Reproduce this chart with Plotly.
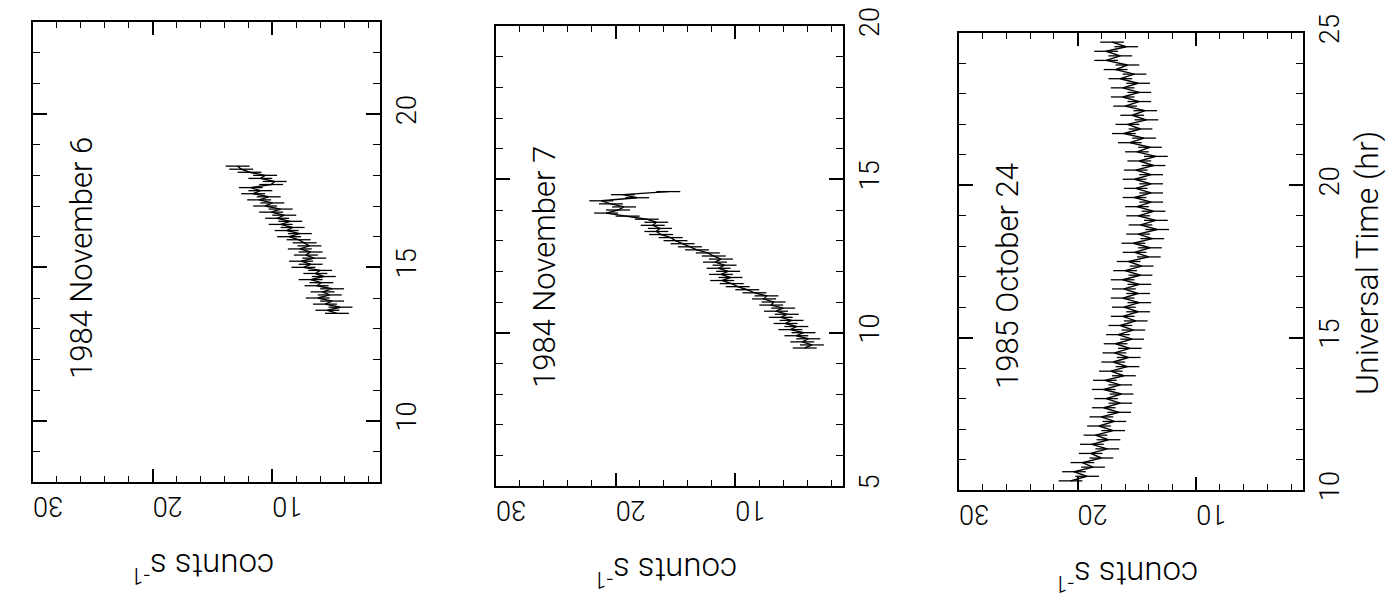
import plotly.graph_objects as go

# ---- light-curve data: Universal Time (hr) and count rate (counts s^-1) ----
nov6_time = [13.5, 13.6, 13.7, 13.8, 13.9, 14.0, 14.1, 14.2, 14.3, 14.4,
             14.5, 14.6, 14.7, 14.8, 14.9, 15.0, 15.1, 15.2, 15.3, 15.4,
             15.5, 15.6, 15.7, 15.8, 15.9, 16.0, 16.1, 16.2, 16.3, 16.4,
             16.5, 16.6, 16.7, 16.8, 16.9, 17.0, 17.1, 17.2, 17.3, 17.4,
             17.5, 17.6, 17.7, 17.8, 17.9, 18.0, 18.1, 18.2, 18.3]
nov6_counts = [4.6, 5.4, 4.3, 5.6, 5.0, 6.2, 5.2, 5.8, 5.0, 6.3,
               5.9, 6.8, 5.7, 6.4, 6.0, 7.4, 6.8, 7.6, 6.5, 7.2,
               6.8, 7.7, 6.9, 7.3, 7.8, 8.6, 7.7, 8.8, 8.3, 9.3,
               8.5, 9.6, 9.0, 10.1, 9.3, 10.6, 10.0, 11.1, 10.3, 11.6,
               11.0, 11.8, 10.1, 9.8, 11.0, 10.6, 11.9, 12.6, 12.9]

nov7_time = [9.5, 9.6, 9.7, 9.8, 9.9, 10.0, 10.1, 10.2, 10.3, 10.4,
             10.5, 10.6, 10.7, 10.8, 10.9, 11.0, 11.1, 11.2, 11.3, 11.4,
             11.5, 11.6, 11.7, 11.8, 11.9, 12.0, 12.1, 12.2, 12.3, 12.4,
             12.5, 12.6, 12.7, 12.8, 12.9, 13.0, 13.1, 13.2, 13.3, 13.4,
             13.5, 13.6, 13.7, 13.8, 13.9, 14.0, 14.1, 14.2, 14.3, 14.4,
             14.5, 14.6]
nov7_counts = [4.2, 3.6, 4.4, 3.9, 4.9, 4.3, 5.4, 4.9, 5.8, 5.3,
               6.2, 5.7, 6.6, 6.0, 7.0, 6.8, 7.6, 7.4, 8.4, 9.0,
               9.8, 10.3, 11.1, 10.4, 11.2, 10.6, 11.4, 10.9, 11.7, 11.2,
               11.8, 12.3, 13.2, 13.8, 14.4, 15.0, 15.4, 16.2, 16.6, 16.3,
               16.9, 16.6, 17.4, 19.0, 20.8, 19.8, 19.3, 20.4, 21.2, 18.2,
               19.4, 15.6]

oct24_time = [10.30, 10.45, 10.60, 10.75, 10.90, 11.05, 11.20, 11.35, 11.50, 11.65,
              11.80, 11.95, 12.10, 12.25, 12.40, 12.55, 12.70, 12.85, 13.00, 13.15,
              13.30, 13.45, 13.60, 13.75, 13.90, 14.05, 14.20, 14.35, 14.50, 14.65,
              14.80, 14.95, 15.10, 15.25, 15.40, 15.55, 15.70, 15.85, 16.00, 16.15,
              16.30, 16.45, 16.60, 16.75, 16.90, 17.05, 17.20, 17.35, 17.50, 17.65,
              17.80, 17.95, 18.10, 18.25, 18.40, 18.55, 18.70, 18.85, 19.00, 19.15,
              19.30, 19.45, 19.60, 19.75, 19.90, 20.05, 20.20, 20.35, 20.50, 20.65,
              20.80, 20.95, 21.10, 21.25, 21.40, 21.55, 21.70, 21.85, 22.00, 22.15,
              22.30, 22.45, 22.60, 22.75, 22.90, 23.05, 23.20, 23.35, 23.50, 23.65,
              23.80, 23.95, 24.10, 24.25, 24.40, 24.55, 24.70]
oct24_counts = [20.6, 19.2, 20.3, 18.7, 19.6, 18.0, 18.9, 17.5, 18.8, 17.4,
                18.5, 17.0, 18.2, 16.9, 18.0, 16.5, 17.8, 16.4, 17.6, 16.3,
                17.8, 16.4, 17.7, 16.1, 17.2, 15.8, 17.0, 15.7, 16.9, 15.6,
                16.8, 15.4, 16.6, 15.3, 16.4, 15.1, 16.2, 14.9, 16.1, 14.8,
                16.2, 14.9, 16.1, 14.8, 16.2, 14.7, 16.0, 14.6, 15.7, 14.0,
                15.2, 13.9, 15.3, 13.7, 14.9, 13.3, 14.7, 13.4, 14.9, 13.6,
                15.0, 13.8, 15.2, 13.8, 15.1, 13.8, 15.2, 13.8, 15.1, 13.6,
                14.8, 13.4, 15.0, 13.9, 15.6, 14.4, 16.1, 14.7, 15.8, 14.2,
                15.4, 14.3, 16.0, 14.8, 16.2, 14.8, 16.2, 14.9, 16.4, 15.2,
                16.8, 15.8, 17.6, 16.4, 17.6, 15.9, 17.1]

count_err = 1.0  # 1-sigma uncertainty on each rate bin

panel_titles = ["1984 November 6", "1984 November 7", "1985 October 24"]
time_ranges = [[8, 23], [5, 20], [10, 25]]
count_range = [30, 1]

series = [(nov6_time, nov6_counts), (nov7_time, nov7_counts), (oct24_time, oct24_counts)]

# ---- page geometry (pixels) ----
W, H = 1399, 607
boxes = [  # left, right, top, bottom
    (33, 380, 22, 482),
    (496, 843, 26, 486),
    (959, 1303, 33, 490),
]
title_centres = [258, 267, 276]  # vertical centre of each date label
FONT = "Roboto, Liberation Sans, Arial, sans-serif"
WEIGHT = 300


def fx(p):
    return p / W


def fy(p):
    return 1 - p / H


fig = go.Figure()
layout = dict(
    width=W, height=H, template="none",
    margin=dict(l=0, r=0, t=0, b=0),
    paper_bgcolor="white", plot_bgcolor="white",
    showlegend=False,
    font=dict(family=FONT, color="black", size=27, weight=WEIGHT),
)

annotations = []
for i, ((t, c), box, trange, title, tc) in enumerate(
        zip(series, boxes, time_ranges, panel_titles, title_centres)):
    n = "" if i == 0 else str(i + 1)
    fig.add_trace(go.Scatter(
        x=c, y=t, mode="lines",
        line=dict(color="black", width=1.4),
        error_x=dict(type="constant", value=count_err, color="black",
                     thickness=1.3, width=0),
        xaxis="x" + n, yaxis="y" + n, hoverinfo="skip",
    ))
    l, r, top, bot = box
    layout["xaxis" + n] = dict(
        domain=[fx(l), fx(r)], anchor="y" + n,
        range=count_range, tick0=0, dtick=10,
        ticks="inside", ticklen=13, tickwidth=1.5, tickcolor="black",
        mirror="allticks", showline=True, linewidth=2, linecolor="black",
        showgrid=False, zeroline=False, automargin=False,
        tickangle=180, ticklabelstandoff=8,
        tickfont=dict(size=27, family=FONT, weight=WEIGHT),
        minor=dict(dtick=2, ticks="inside", ticklen=6, tickwidth=1.2,
                   tickcolor="black", showgrid=False),
    )
    layout["yaxis" + n] = dict(
        domain=[fy(bot), fy(top)], anchor="x" + n, side="right",
        range=trange, tick0=0, dtick=5,
        ticks="inside", ticklen=14, tickwidth=1.5, tickcolor="black",
        mirror="allticks", showline=True, linewidth=2, linecolor="black",
        showgrid=False, zeroline=False, automargin=False,
        tickangle=-90, ticklabelstandoff=2,
        tickfont=dict(size=27, family=FONT, weight=WEIGHT),
        minor=dict(dtick=1, ticks="inside", ticklen=7, tickwidth=1.2,
                   tickcolor="black", showgrid=False),
    )
    # date label inside the panel
    annotations.append(dict(
        text=title, x=fx(l + 48), y=fy(tc),
        xref="paper", yref="paper", showarrow=False, textangle=-90,
        font=dict(size=31, family=FONT, color="black", weight=WEIGHT),
        xanchor="center", yanchor="middle",
    ))
    # count-rate axis title (upside down like the tick labels)
    annotations.append(dict(
        text="counts s<sup>-1</sup>", x=fx((l + r) / 2 - 4), y=fy(bot + 86),
        xref="paper", yref="paper", showarrow=False, textangle=180,
        font=dict(size=33, family=FONT, color="black", weight=WEIGHT),
        xanchor="center", yanchor="middle",
    ))

annotations.append(dict(
    text="Universal Time (hr)", x=fx(1367), y=fy(263),
    xref="paper", yref="paper", showarrow=False, textangle=-90,
    font=dict(size=32, family=FONT, color="black", weight=WEIGHT),
    xanchor="center", yanchor="middle",
))
layout["annotations"] = annotations
fig.update_layout(**layout)

fig.write_html("out.html")
